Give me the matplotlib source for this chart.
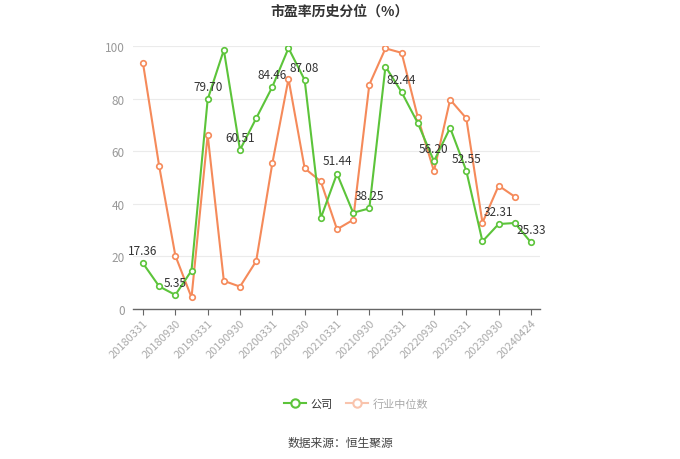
import matplotlib
matplotlib.use("Agg")
import matplotlib.pyplot as plt
from matplotlib.lines import Line2D

plt.rcParams['font.family'] = ['Noto Sans CJK SC', 'DejaVu Sans']

dates = ["20180331", "20180630", "20180930", "20181231",
         "20190331", "20190630", "20190930", "20191231",
         "20200331", "20200630", "20200930", "20201231",
         "20210331", "20210630", "20210930", "20211231",
         "20220331", "20220630", "20220930", "20221231",
         "20230331", "20230630", "20230930", "20231231",
         "20240424"]
company = [17.36, 8.6, 5.35, 14.6, 79.70, 98.5, 60.51, 72.5, 84.46, 99.2, 87.08, 34.6,
           51.44, 36.6, 38.25, 92.2, 82.44, 70.7, 56.20, 68.9, 52.55, 25.7, 32.31, 32.7, 25.33]
industry = [93.4, 54.3, 20.3, 4.4, 66.2, 10.7, 8.5, 18.2, 55.4, 87.5, 53.5, 48.5,
            30.3, 33.9, 85.3, 99.1, 97.4, 72.9, 52.4, 79.6, 72.5, 32.8, 46.9, 42.7, None]
label_idx = list(range(0, 25, 2))

green = '#5cc43a'
orange = '#f58a5a'

fig = plt.figure(figsize=(6.8, 4.6), dpi=100)
ax = fig.add_axes([133/680, 150/460, 407/680, 263/460])

x = list(range(len(dates)))
ind_x = [i for i, v in zip(x, industry) if v is not None]
ind_y = [v for v in industry if v is not None]

ax.plot(ind_x, ind_y, color=orange, lw=1.5, marker='o', ms=4, mfc='white',
        mec=orange, mew=1.2, zorder=3)
ax.plot(x, company, color=green, lw=1.5, marker='o', ms=4, mfc='white',
        mec=green, mew=1.2, zorder=4)

for i in label_idx:
    ax.annotate(f"{company[i]:.2f}", (i, company[i]), xytext=(0, 4.5),
                textcoords='offset points', ha='center', va='bottom',
                fontsize=8.5, color='#333333', zorder=5)

ax.set_xlim(-0.62, 24.56)
ax.set_ylim(0, 100)
ax.set_yticks([0, 20, 40, 60, 80, 100])
ax.set_xticks(label_idx)
ax.set_xticklabels([dates[i] for i in label_idx], rotation=45, ha='right',
                   rotation_mode='anchor', fontsize=8, color='#aaaaaa')
ax.tick_params(axis='y', length=0, labelsize=8.5, labelcolor='#999999', pad=6)
ax.tick_params(axis='x', length=4, color='#666666', pad=2)
ax.grid(axis='y', color='#ebebeb', lw=0.8)
ax.set_axisbelow(True)
for s in ['top', 'right', 'left']:
    ax.spines[s].set_visible(False)
ax.spines['bottom'].set_color('#666666')
ax.spines['bottom'].set_linewidth(1)

fig.text(340/680, 1 - 12/460, "市盈率历史分位（%）", ha='center', va='center',
         fontsize=10, fontweight='bold', color='#333333')

handles = [Line2D([0], [0], color=green, lw=1.5, marker='o', ms=6, mfc='white', mec=green, mew=1.5),
           Line2D([0], [0], color='#f9c4ad', lw=1.5, marker='o', ms=6, mfc='white', mec='#f9c4ad', mew=1.5)]
leg = fig.legend(handles, ['公司', '行业中位数'], loc='center', bbox_to_anchor=(356/680, 1 - 405/460),
                 ncol=2, frameon=False, fontsize=8, handlelength=2, columnspacing=1.2,
                 handletextpad=0.4)
leg.get_texts()[0].set_color('#333333')
leg.get_texts()[1].set_color('#aaaaaa')

fig.text(340/680, 1 - 443/460, "数据来源：恒生聚源", ha='center', va='center',
         fontsize=8.5, color='#444444')

fig.savefig("out.png", dpi=100)
